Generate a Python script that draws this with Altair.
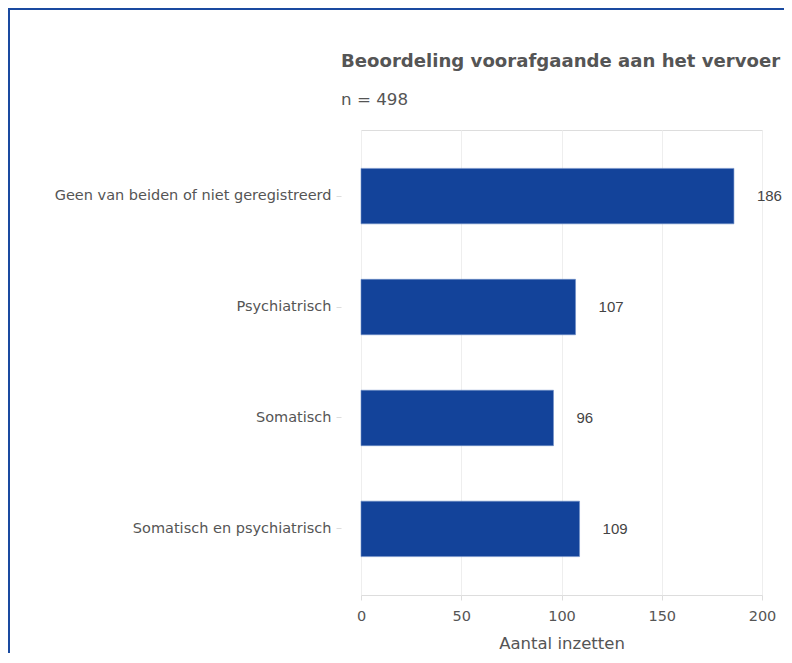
import altair as alt
import pandas as pd

categories = [
    "Geen van beiden of niet geregistreerd",
    "Psychiatrisch",
    "Somatisch",
    "Somatisch en psychiatrisch",
]
values = [186, 107, 96, 109]

df = pd.DataFrame({"categorie": categories, "aantal": values})

FONT = "DejaVu Sans"
BLUE = "#13439a"
TEXT = "#555555"

y_enc = alt.Y(
    "categorie:N",
    sort=categories,
    title=None,
    scale=alt.Scale(paddingInner=0.5, paddingOuter=0.346),
    axis=alt.Axis(
        offset=20, domain=False, tickSize=5, tickColor="#dddddd",
        labelPadding=5, labelFont=FONT, labelFontSize=14.5, labelColor=TEXT,
        labelLimit=400, grid=False,
    ),
)

bars = alt.Chart(df).mark_bar(color=BLUE, stroke="#6f8fc8", strokeWidth=0.6).encode(
    x=alt.X(
        "aantal:Q",
        title="Aantal inzetten",
        scale=alt.Scale(domain=[0, 200]),
        axis=alt.Axis(
            values=[0, 50, 100, 150, 200], domain=False, grid=True,
            gridColor="#eeeeee", tickColor="#dddddd", tickSize=5,
            labelFlush=False,
            labelPadding=9, labelFont=FONT, labelFontSize=14.5, labelColor=TEXT,
            titleFont=FONT, titleFontSize=16.5, titleColor=TEXT,
            titleFontWeight="normal", titlePadding=13,
        ),
    ),
    y=y_enc,
)

labels = alt.Chart(df).mark_text(
    align="left", baseline="middle", dx=23, font="Liberation Sans",
    fontSize=15, color="#444444",
).encode(
    x="aantal:Q",
    y=alt.Y("categorie:N", sort=categories),
    text="aantal:Q",
)

frame_left = alt.Chart(alt.Data(values=[{}])).mark_rule(
    color="#1a4aa0", strokeWidth=2, clip=False,
).encode(
    x=alt.value(-352),
    y=alt.value(-122),
    y2=alt.value(600),
)
frame_top = alt.Chart(alt.Data(values=[{}])).mark_rule(
    color="#1a4aa0", strokeWidth=2, clip=False,
).encode(
    x=alt.value(-353),
    x2=alt.value(600),
    y=alt.value(-121),
)

chart = alt.layer(frame_left, frame_top, bars, labels).properties(
    width=401,
    height=465,
    autosize=alt.AutoSizeParams(type="none"),
    padding={"left": 353, "top": 122, "right": 22, "bottom": 58},
    title=alt.TitleParams(
        text="Beoordeling voorafgaande aan het vervoer",
        subtitle="n = 498",
        anchor="start",
        frame="group",
        dx=-20,
        offset=-102,
        font=FONT,
        fontSize=18.1,
        fontWeight="bold",
        color=TEXT,
        subtitleFont=FONT,
        subtitleFontSize=16.7,
        subtitleColor=TEXT,
        subtitlePadding=21,
    ),
).configure_view(strokeWidth=0).configure(background="white")

chart.save("out.html", embed_options={"renderer": "svg", "actions": False})
